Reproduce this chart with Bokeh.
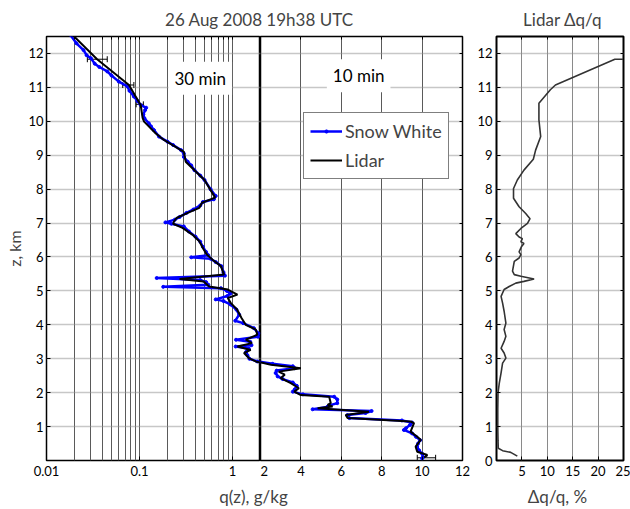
from bokeh.plotting import figure
from bokeh.layouts import row, column
from bokeh.models import (Range1d, FixedTicker, Label, Whisker, TeeHead, LinearAxis, LogAxis,
                          ColumnDataSource, NumeralTickFormatter)
from bokeh.embed import file_html
from bokeh.resources import INLINE

FONT = "Lato"

# ---------------- data ----------------
# Snow White profile (z km, q g/kg)
sw_z = [12.55, 12.30, 12.10, 11.95, 11.86, 11.70, 11.60, 11.47, 11.35, 11.17, 11.03, 10.90,
        10.73, 10.60, 10.48, 10.40, 10.33, 10.20, 10.09, 9.94, 9.85, 9.74, 9.55, 9.40, 9.30,
        9.15, 9.05, 8.95, 8.81, 8.70, 8.56, 8.40, 8.27, 8.00, 7.80, 7.70, 7.62, 7.52, 7.40,
        7.30, 7.18, 7.10, 7.02, 6.98, 6.90, 6.75, 6.60, 6.45, 6.30, 6.15, 6.05, 5.99, 5.95,
        5.85, 5.73, 5.55, 5.45, 5.38, 5.32, 5.26, 5.18, 5.12, 5.08, 5.00, 4.92, 4.85, 4.75,
        4.70, 4.60, 4.45, 4.30, 4.12, 4.05, 3.90, 3.75, 3.65, 3.56, 3.50, 3.40, 3.36, 3.30,
        3.20, 3.10, 3.00, 2.92, 2.85, 2.78, 2.72, 2.65, 2.58, 2.48, 2.40, 2.30, 2.20, 2.10,
        2.03, 1.95, 1.88, 1.80, 1.69, 1.62, 1.58, 1.51, 1.46, 1.40, 1.34, 1.25, 1.18, 1.12,
        1.05, 0.95, 0.90, 0.80, 0.70, 0.60, 0.50, 0.40, 0.30, 0.20, 0.10, 0.06]
sw_q = [0.018, 0.021, 0.025, 0.027, 0.030, 0.033, 0.037, 0.045, 0.050, 0.060, 0.074, 0.078,
        0.087, 0.095, 0.103, 0.118, 0.115, 0.110, 0.113, 0.126, 0.133, 0.143, 0.162, 0.20, 0.23,
        0.28, 0.30, 0.30, 0.33, 0.36, 0.39, 0.45, 0.50, 0.58, 0.66, 0.63, 0.48, 0.45, 0.38,
        0.32, 0.27, 0.24, 0.19, 0.22, 0.30, 0.34, 0.40, 0.45, 0.48, 0.52, 0.55, 0.36, 0.58,
        0.66, 0.76, 0.80, 0.83, 0.153, 0.45, 0.52, 0.55, 0.18, 0.75, 0.87, 0.95, 0.88, 0.66,
        0.80, 0.95, 1.10, 1.18, 1.07, 1.30, 1.70, 1.90, 1.88, 1.09, 1.55, 1.60, 1.08, 1.50,
        1.40, 1.45, 1.52, 1.85, 2.6, 3.6, 3.7, 2.8, 2.75, 2.85, 3.1, 3.6, 3.8, 3.7,
        3.6, 4.1, 5.65, 5.8, 5.8, 5.4, 5.3, 4.58, 7.5, 7.2, 6.3, 6.4, 9.0, 9.5,
        9.4, 9.2, 9.1, 9.5, 9.7, 9.9, 9.8, 9.75, 9.85, 10.0, 10.05, 10.0]

# Lidar profile (z km, q g/kg)
li_z = [12.55, 11.83, 11.07, 10.75, 10.48, 10.10, 9.99, 9.65, 9.45, 9.10, 8.81, 8.27, 7.75,
        7.60, 7.45, 7.30, 7.15, 7.05, 6.98, 6.86, 6.66, 6.46, 6.22, 6.07, 5.92, 5.73, 5.48,
        5.35, 5.28, 5.13, 5.04, 4.89, 4.79, 4.64, 4.45, 4.20, 4.00, 3.86, 3.71, 3.56, 3.46,
        3.36, 3.26, 3.17, 3.02, 2.92, 2.82, 2.72, 2.62, 2.53, 2.43, 2.28, 2.13, 2.03, 1.93,
        1.88, 1.69, 1.64, 1.59, 1.54, 1.44, 1.34, 1.25, 1.15, 1.10, 0.85, 0.70, 0.61, 0.41,
        0.26, 0.16, 0.09]
li_q = [0.019, 0.035, 0.077, 0.090, 0.103, 0.108, 0.112, 0.149, 0.183, 0.30, 0.314, 0.50, 0.65,
        0.47, 0.44, 0.33, 0.25, 0.235, 0.23, 0.29, 0.37, 0.44, 0.49, 0.53, 0.61, 0.75, 0.81,
        0.27, 0.49, 0.56, 0.89, 1.13, 0.89, 0.96, 1.12, 1.25, 1.39, 1.78, 1.85, 1.39, 1.62,
        1.13, 1.57, 1.33, 1.50, 1.78, 2.52, 4.0, 2.9, 3.2, 3.0, 3.5, 3.9, 3.67, 4.0,
        5.4, 5.48, 5.32, 5.57, 4.83, 7.37, 6.22, 6.31, 9.43, 9.6, 9.43, 9.76, 9.93, 9.68,
        9.76, 10.26, 10.1]

# Lidar error bars
err_log_z = [11.83, 11.07, 10.50]
err_log_lo = [0.0275, 0.066, 0.092]
err_log_hi = [0.045, 0.087, 0.110]
err_lin_z = [0.08]
err_lin_lo = [9.76]
err_lin_hi = [10.67]

# Lidar relative error (z km, dq/q %)
dq_z = [11.83, 11.83, 11.07, 10.93, 10.53, 10.04, 9.55, 9.15, 8.88, 8.56, 8.27, 8.02, 7.73,
        7.48, 7.28, 7.13, 6.99, 6.84, 6.69, 6.59, 6.54, 6.45, 6.40, 6.30, 6.15, 6.07, 5.97,
        5.87, 5.58, 5.48, 5.43, 5.35, 5.28, 5.23, 5.13, 5.04, 4.84, 4.64, 4.40, 4.05, 3.86,
        3.66, 3.51, 3.31, 3.17, 3.02, 2.87, 2.58, 2.28, 1.99, 1.50, 1.00, 0.60, 0.36, 0.29,
        0.24, 0.13]
dq_v = [24.9, 23.3, 11.6, 10.6, 8.35, 8.35, 8.7, 7.7, 7.25, 5.4, 4.1, 3.35, 3.35,
        4.45, 5.75, 6.6, 6.1, 4.8, 3.8, 4.45, 5.1, 4.8, 5.4, 4.9, 4.45, 4.8, 4.45,
        3.5, 3.15, 3.5, 4.8, 7.4, 5.4, 3.8, 2.5, 1.5, 0.9, 1.2, 1.5, 1.85, 1.5,
        1.85, 1.5, 0.9, 1.5, 1.85, 1.2, 0.9, 0.55, 0.3, 0.25, 0.25, 0.3, 0.35, 1.2,
        2.8, 4.1]

# ticks / grid positions
z_ticks_a = [1, 2, 3, 4, 5, 6, 7, 8, 9, 10, 11, 12]
z_ticks_c = [0, 1, 2, 3, 4, 5, 6, 7, 8, 9, 10, 11, 12]
log_ticks = [0.01, 0.1, 1]
log_grid = [0.02, 0.03, 0.04, 0.05, 0.06, 0.07, 0.08, 0.09, 0.1,
            0.2, 0.3, 0.4, 0.5, 0.6, 0.7, 0.8, 0.9, 1]
lin_ticks = [2, 4, 6, 8, 10, 12]
lin_grid = [4, 6, 8, 10]
dq_ticks = [5, 10, 15, 20, 25]
dq_grid = [5, 10, 15, 20]

# ---------------- layout constants ----------------
MAIN_H = 450
BLUE = "#0000ff"


def style(p, xgrid, ygrid, ow=2):
    p.outline_line_color = "black"
    p.outline_line_width = ow
    p.outline_line_alpha = 1
    p.background_fill_color = "white"
    for ax in p.axis:
        ax.axis_line_color = None
        ax.major_tick_in = 4
        ax.major_tick_out = 0
        ax.major_tick_line_color = "black"
        ax.minor_tick_line_color = None
        ax.major_label_text_font = FONT
        ax.major_label_text_font_size = "13px"
        ax.major_label_text_color = "black"
        ax.major_label_standoff = 5
    p.xgrid.ticker = FixedTicker(ticks=xgrid)
    p.xgrid.grid_line_color = "#5a5a5a"
    p.xgrid.grid_line_width = 1
    p.ygrid.ticker = FixedTicker(ticks=ygrid)
    p.ygrid.grid_line_color = "#8f8f8f"
    p.ygrid.grid_line_width = 1.6
    p.ygrid.grid_line_dash = "1 1"


def tick_axis(cls, ticks):
    """Axis carrying only short inward tick marks (labels blanked)."""
    ax = cls(ticker=FixedTicker(ticks=ticks))
    ax.axis_line_color = None
    ax.major_tick_in = 3
    ax.major_tick_out = 0
    ax.major_tick_line_color = "black"
    ax.minor_tick_line_color = None
    ax.major_label_overrides = {t: "" for t in ticks}
    ax.major_label_text_font_size = "1px"
    ax.major_label_standoff = 0
    return ax


sw_src = ColumnDataSource(dict(z=sw_z, q=sw_q))
li_src = ColumnDataSource(dict(z=li_z, q=li_q))


def whisker(zs, lo, hi):
    return Whisker(source=ColumnDataSource(dict(z=zs, lo=lo, hi=hi)),
                   base="z", lower="lo", upper="hi", dimension="width",
                   line_color="black", line_width=1,
                   lower_head=TeeHead(size=6, line_color="black", line_width=1),
                   upper_head=TeeHead(size=6, line_color="black", line_width=1))


# ---- panel A: log 0.01 .. 2 ----
pa = figure(width=260, height=MAIN_H, x_axis_type="log",
            x_range=Range1d(0.01, 2), y_range=Range1d(0, 12.5),
            toolbar_location=None, output_backend="svg",
            min_border_left=46, min_border_right=0, min_border_top=2, min_border_bottom=24)
pa.xaxis.ticker = FixedTicker(ticks=log_ticks)
pa.xaxis.formatter = NumeralTickFormatter(format="0.[00]")
pa.yaxis.ticker = FixedTicker(ticks=z_ticks_a)
pa.yaxis.axis_label = "z, km"
pa.yaxis.axis_label_text_font = FONT
pa.yaxis.axis_label_text_font_style = "normal"
pa.yaxis.axis_label_text_font_size = "16px"
pa.yaxis.axis_label_standoff = 1
style(pa, log_grid, z_ticks_a, ow=1.5)
pa.yaxis.major_label_standoff = 3
pa.add_layout(tick_axis(LogAxis, log_grid), "above")
pa.line("q", "z", source=sw_src, line_color=BLUE, line_width=2.5)
pa.scatter("q", "z", source=sw_src, size=3, color=BLUE)
pa.line("q", "z", source=li_src, line_color="black", line_width=2)
pa.add_layout(whisker(err_log_z, err_log_lo, err_log_hi))
pa.add_layout(Label(x=0.45, y=11.27, text="30 min", text_align="center", text_baseline="middle",
                    text_font=FONT, text_font_size="17px", text_color="black",
                    background_fill_color="white", padding=6))

# ---- panel B: linear 2 .. 12 ----
pb = figure(width=210, height=MAIN_H, x_range=Range1d(2, 12), y_range=Range1d(0, 12.5),
            y_axis_location=None, toolbar_location=None, output_backend="svg",
            min_border_left=0, min_border_right=8, min_border_top=2, min_border_bottom=24)
pb.xaxis.ticker = FixedTicker(ticks=lin_ticks)
style(pb, lin_grid, z_ticks_a, ow=1.5)
pb.add_layout(tick_axis(LinearAxis, lin_grid), "above")
pb.add_layout(tick_axis(LinearAxis, z_ticks_a), "right")
pb.line("q", "z", source=sw_src, line_color=BLUE, line_width=2.5, legend_label="Snow White")
pb.scatter("q", "z", source=sw_src, size=3, color=BLUE, legend_label="Snow White")
pb.line("q", "z", source=li_src, line_color="black", line_width=2, legend_label="Lidar")
pb.add_layout(whisker(err_lin_z, err_lin_lo, err_lin_hi))
pb.add_layout(Label(x=6.86, y=11.34, text="10 min", text_align="center", text_baseline="middle",
                    text_font=FONT, text_font_size="17px", text_color="black",
                    background_fill_color="white", padding=6))
lg = pb.legend[0]
lg.location = (43, 281)
lg.border_line_color = "black"
lg.border_line_width = 1.5
lg.background_fill_alpha = 1
lg.label_text_font = FONT
lg.label_text_font_size = "18px"
lg.glyph_width = 32
lg.glyph_height = 8
lg.label_height = 24
lg.label_standoff = 3
lg.spacing = 5
lg.padding = 6
lg.margin = 0

# ---- panel C: Lidar dq/q ----
pc = figure(width=160, height=MAIN_H, x_range=Range1d(0, 25), y_range=Range1d(0, 12.5),
            toolbar_location=None, output_backend="svg",
            min_border_left=26, min_border_right=7, min_border_top=2, min_border_bottom=24)
pc.xaxis.ticker = FixedTicker(ticks=dq_ticks)
pc.yaxis.ticker = FixedTicker(ticks=z_ticks_c)
style(pc, dq_grid, z_ticks_a, ow=2)
pc.yaxis.major_label_standoff = 4
pc.xgrid.grid_line_color = "#8a8a8a"
pc.add_layout(tick_axis(LinearAxis, dq_grid), "above")
pc.add_layout(tick_axis(LinearAxis, z_ticks_a), "right")
pc.line(dq_v, dq_z, line_color="#333333", line_width=1.6)


# ---- title and axis-label strips ----
def strip(h):
    s = figure(width=630, height=h, x_range=Range1d(0, 630), y_range=Range1d(0, h),
               toolbar_location=None, output_backend="svg", min_border=0,
               x_axis_location=None, y_axis_location=None)
    s.grid.visible = False
    s.outline_line_color = None
    return s


top = strip(34)
top.add_layout(Label(x=261, y=15, text="26 Aug 2008  19h38 UTC", text_align="center",
                     text_baseline="middle", text_font=FONT, text_font_size="17px"))
top.add_layout(Label(x=562, y=15, text="Lidar \u0394q/q", text_align="center",
                     text_baseline="middle", text_font=FONT, text_font_size="17px"))

bot = strip(24)
bot.add_layout(Label(x=253, y=12, text="q(z), g/kg", text_align="center",
                     text_baseline="middle", text_font=FONT, text_font_size="17px"))
bot.add_layout(Label(x=557, y=12, text="\u0394q/q, %", text_align="center",
                     text_baseline="middle", text_font=FONT, text_font_size="17px"))

layout = column(top, row(pa, pb, pc), bot)
open("out.html", "w").write(file_html(layout, INLINE))
